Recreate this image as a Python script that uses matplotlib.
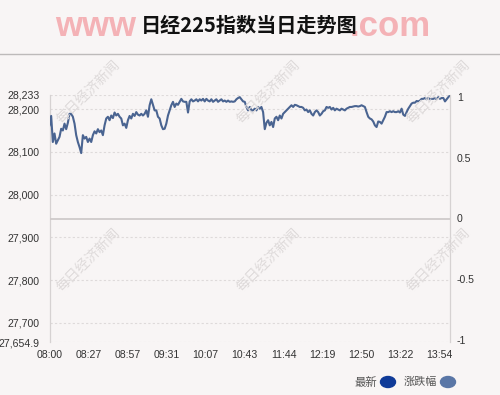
import numpy as np
import matplotlib
matplotlib.use("Agg")
import matplotlib.pyplot as plt
from matplotlib.patches import Ellipse
from matplotlib.lines import Line2D

plt.rcParams['font.family'] = ['Liberation Sans', 'Noto Sans CJK SC', 'DejaVu Sans']

title = "日经225指数当日走势图"
time_labels = ["08:00", "08:27", "08:57", "09:31", "10:07", "10:43",
               "11:44", "12:19", "12:50", "13:22", "13:54"]
left_ticks = [27654.9, 27700, 27800, 27900, 28000, 28100, 28200, 28233]
right_ticks = [-1, -0.5, 0, 0.5, 1]
y_low, y_high = 27654.9, 28233
pct_limit = 1.02
n_slots = 308          # category slots spanned by the x axis
label_every = 30       # one time label every 30 slots
legend_labels = ["最新", "涨跌幅"]

prices = [
    28162, 28184, 28123, 28143, 28119, 28127, 28135, 28154, 28150, 28166,
    28153, 28168, 28189, 28189, 28182, 28166, 28139, 28123, 28111, 28097,
    28139, 28131, 28135, 28123, 28131, 28123, 28139, 28148, 28143, 28153,
    28146, 28150, 28139, 28162, 28178, 28182, 28174, 28185, 28179, 28192,
    28185, 28189, 28182, 28178, 28162, 28166, 28156, 28174, 28184, 28178,
    28189, 28184, 28193, 28187, 28185, 28189, 28185, 28189, 28197, 28182,
    28209, 28223, 28210, 28197, 28197, 28182, 28178, 28162, 28153, 28154,
    28166, 28185, 28197, 28209, 28217, 28205, 28213, 28210, 28217, 28224,
    28218, 28217, 28217, 28192, 28218, 28223, 28218, 28220, 28223, 28218,
    28223, 28220, 28224, 28218, 28224, 28220, 28218, 28223, 28217, 28220,
    28223, 28217, 28220, 28223, 28218, 28220, 28217, 28220, 28217, 28218,
    28217, 28218, 28223, 28226, 28228, 28223, 28218, 28217, 28205, 28197,
    28205, 28197, 28197, 28201, 28197, 28205, 28201, 28205, 28193, 28153,
    28168, 28174, 28162, 28170, 28158, 28178, 28182, 28174, 28185, 28178,
    28189, 28193, 28197, 28201, 28205, 28209, 28205, 28210, 28209, 28207,
    28205, 28205, 28203, 28197, 28199, 28193, 28197, 28189, 28185, 28193,
    28197, 28193, 28185, 28189, 28195, 28197, 28205, 28203, 28205, 28199,
    28203, 28197, 28201, 28199, 28197, 28201, 28199, 28197, 28201, 28203,
    28205, 28205, 28206, 28207, 28207, 28206, 28207, 28209, 28207, 28205,
    28193, 28182, 28178, 28176, 28171, 28162, 28158, 28171, 28170, 28166,
    28174, 28182, 28193, 28193, 28195, 28193, 28195, 28193, 28193, 28195,
    28192, 28201, 28187, 28184, 28193, 28201, 28207, 28213, 28215, 28215,
    28219, 28218, 28220, 28224, 28224, 28226, 28223, 28226, 28223, 28224,
    28224, 28226, 28223, 28228, 28224, 28226, 28226, 28218, 28223, 28228,
    28232,
]

W, H = 500, 395
bg = '#f8f5f5'
fig = plt.figure(figsize=(W / 100, H / 100), dpi=100, facecolor=bg)

ax_l, ax_r, ax_t, ax_b = 49.5, 450, 95, 342
ax = fig.add_axes([ax_l / W, 1 - ax_b / H, (ax_r - ax_l) / W, (ax_b - ax_t) / H])
ax.set_facecolor(bg)
ax.patch.set_alpha(0)

x = np.linspace(0, n_slots, len(prices))
ax.plot(x, prices, color='#4a6491', lw=1.5, solid_joinstyle='round', zorder=3)
ax.set_xlim(0, n_slots)
ax.set_ylim(y_low, y_high)

ax.set_yticks(left_ticks)
ax.set_yticklabels([f"{v:,}" for v in left_ticks])
ax.set_xticks(np.arange(len(time_labels)) * label_every)
ax.set_xticklabels(time_labels)
for v in left_ticks:
    ax.axhline(v, color='#dedada', lw=0.8, ls=(0, (2, 2)), zorder=1)
ax.tick_params(axis='both', length=0, labelsize=7.6, colors='#333333')
ax.tick_params(axis='y', pad=7)
ax.tick_params(axis='x', pad=6)
for s in ['top', 'bottom', 'right']:
    ax.spines[s].set_visible(False)
ax.spines['left'].set_color('#d6d2d2')
ax.spines['left'].set_linewidth(0.9)

ax2 = ax.twinx()
ax2.set_ylim(-pct_limit, pct_limit)
ax2.set_yticks(right_ticks)
ax2.set_yticklabels([f"{v:g}" for v in right_ticks])
ax2.tick_params(axis='y', length=0, labelsize=7.6, colors='#333333', pad=5)
ax2.axhline(0, color='#cfcaca', lw=1.3, zorder=2)
for s in ['top', 'bottom', 'left']:
    ax2.spines[s].set_visible(False)
ax2.spines['right'].set_color('#d6d2d2')
ax2.spines['right'].set_linewidth(0.9)

# watermarks
for cx in [88, 268, 438]:
    for cy in [92, 260]:
        fig.text(cx / W, 1 - cy / H, "每日经济新闻", rotation=45, ha='center', va='center',
                 fontsize=10, color='#dedada', family=['Noto Sans CJK SC'], zorder=0)

# pink site watermark behind title
fig.text(55 / W, 1 - 27 / H, "www", fontsize=25, color='#f4b2b6', ha='left', va='center',
         family=['Liberation Sans'], weight='bold')
fig.text(431 / W, 1 - 27 / H, ".com", fontsize=25, color='#f4b2b6', ha='right', va='center',
         family=['Liberation Sans'], weight='bold')

fig.text(249 / W, 1 - 25 / H, title, fontsize=14.5, weight='bold', color='#111111',
         ha='center', va='center', family=['Noto Sans CJK SC', 'DejaVu Sans'])
fig.add_artist(Line2D([0, 1], [1 - 54 / H] * 2, color='#bdbaba', lw=1.0))

# legend
ly = 1 - 382 / H
fig.text(377 / W, ly, legend_labels[0], fontsize=8.2, color='#555555', ha='right', va='center',
         family=['Noto Sans CJK SC'])
fig.add_artist(Ellipse((388 / W, ly), 15 / W, 11 / H, transform=fig.transFigure,
                       color='#0f3a98'))
fig.text(437 / W, ly, legend_labels[1], fontsize=8, color='#555555', ha='right', va='center',
         family=['Noto Sans CJK SC'])
fig.add_artist(Ellipse((448 / W, ly), 15 / W, 11 / H, transform=fig.transFigure,
                       color='#5a76a6'))

fig.savefig("out.png", dpi=100, facecolor=bg)
